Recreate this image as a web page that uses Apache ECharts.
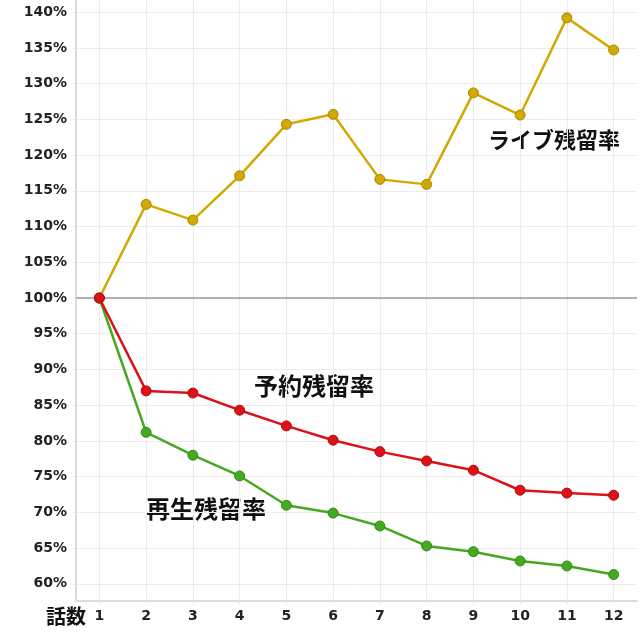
<!DOCTYPE html>
<html>
<head>
<meta charset="utf-8">
<script src="https://cdn.jsdelivr.net/npm/echarts@6/dist/echarts.min.js"></script>
<style>
  html, body { margin: 0; padding: 0; background: #fff; }
  #chart { width: 640px; height: 640px; }
</style>
</head>
<body>
<div id="chart"></div>
<script>
// 話数
const episodes = [1, 2, 3, 4, 5, 6, 7, 8, 9, 10, 11, 12]
// 残留率 (%)
const liveRate = [100, 113.1, 110.9, 117.1, 124.3, 125.7, 116.6, 115.9, 128.7, 125.6, 139.2, 134.7]
const reserveRate = [100, 87.0, 86.7, 84.3, 82.1, 80.1, 78.5, 77.2, 75.9, 73.1, 72.7, 72.4]
const playRate = [100, 81.2, 78.0, 75.1, 71.0, 69.9, 68.1, 65.3, 64.5, 63.2, 62.5, 61.3]
const seriesNames = ['ライブ残留率', '再生残留率', '予約残留率']
const baseline = 100

const font = '"DejaVu Sans", "Noto Sans CJK JP", sans-serif'
const jpFont = '"Noto Sans CJK JP", sans-serif'

const pairs = (values) => episodes.map((ep, i) => [ep, values[i]])

const lineSeries = (name, values, color, border) => ({
  name,
  type: 'line',
  data: pairs(values),
  symbol: 'circle',
  symbolSize: 10,
  lineStyle: { color, width: 2.5 },
  itemStyle: { color, borderColor: border, borderWidth: 1 },
  emphasis: { disabled: true },
  animation: false,
})

const chart = echarts.init(document.getElementById('chart'))

chart.setOption({
  animation: false,
  grid: { left: 76, right: 3, top: 0, bottom: 39 },
  xAxis: {
    type: 'value',
    min: 0.5,
    max: 12.5,
    minInterval: 1,
    maxInterval: 1,
    axisLine: { show: true, onZero: false, lineStyle: { color: '#dcdcdc', width: 2 } },
    axisTick: { show: true, length: 3, lineStyle: { color: '#e6e6e6' } },
    axisLabel: {
      showMinLabel: false,
      showMaxLabel: false,
      color: '#222',
      fontWeight: 'bold',
      fontSize: 14,
      fontFamily: font,
      margin: 8,
    },
    splitLine: {
      show: true,
      showMinLine: false,
      showMaxLine: false,
      lineStyle: { color: '#ececec', width: 1 },
    },
  },
  yAxis: {
    type: 'value',
    min: 57.6,
    max: 141.7,
    minInterval: 5,
    maxInterval: 5,
    axisLine: { show: true, lineStyle: { color: '#dcdcdc', width: 2 } },
    axisTick: { show: true, length: 3, lineStyle: { color: '#e6e6e6' } },
    axisLabel: {
      showMinLabel: false,
      showMaxLabel: false,
      formatter: (v) => v + '%',
      color: '#222',
      fontWeight: 'bold',
      fontSize: 14,
      fontFamily: font,
      margin: 9,
    },
    splitLine: {
      show: true,
      showMinLine: false,
      showMaxLine: false,
      lineStyle: { color: '#ececec', width: 1 },
    },
  },
  series: [
    {
      ...lineSeries(seriesNames[0], liveRate, '#d1a900', '#a98800'),
      markLine: {
        silent: true,
        symbol: 'none',
        label: { show: false },
        lineStyle: { color: '#9a9a9a', width: 1.5, type: 'solid' },
        data: [{ yAxis: baseline }],
        z: 1,
      },
      z: 3,
    },
    { ...lineSeries(seriesNames[1], playRate, '#45a821', '#358a15'), z: 4 },
    { ...lineSeries(seriesNames[2], reserveRate, '#dd1117', '#b00a0f'), z: 5 },
  ],
  graphic: [
    {
      type: 'text',
      left: 46,
      top: 606,
      style: { text: '話数', font: 'bold 20px ' + jpFont, fill: '#111' },
    },
    {
      type: 'text',
      left: 488,
      top: 129,
      style: { text: seriesNames[0], font: 'bold 22px ' + jpFont, fill: '#111' },
    },
    {
      type: 'text',
      left: 254,
      top: 374,
      style: { text: seriesNames[2], font: 'bold 24px ' + jpFont, fill: '#111' },
    },
    {
      type: 'text',
      left: 146,
      top: 497,
      style: { text: seriesNames[1], font: 'bold 24px ' + jpFont, fill: '#111' },
    },
  ],
})
</script>
</body>
</html>
